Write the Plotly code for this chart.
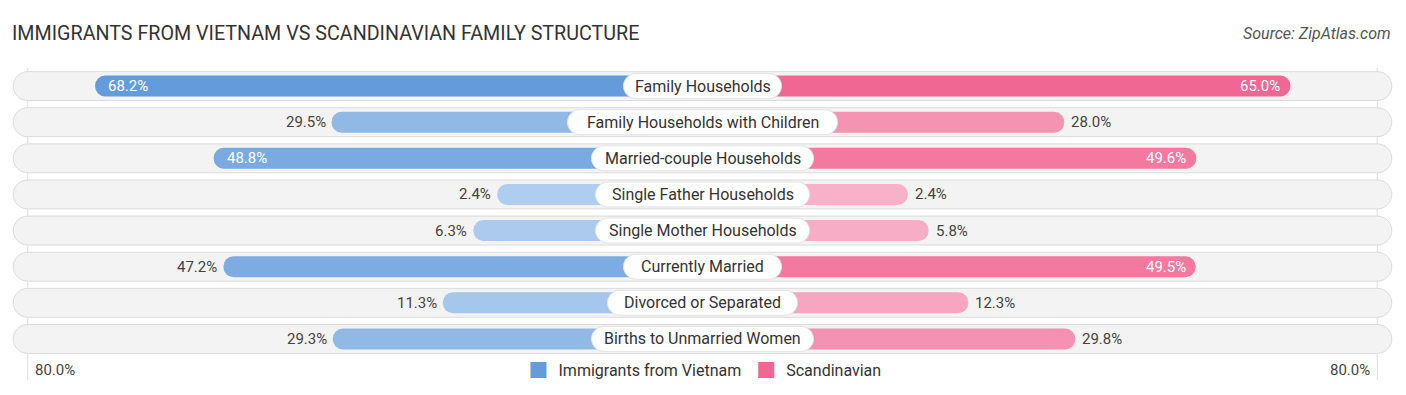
import plotly.graph_objects as go

# ---------------- data ----------------
categories = [
    "Family Households",
    "Family Households with Children",
    "Married-couple Households",
    "Single Father Households",
    "Single Mother Households",
    "Currently Married",
    "Divorced or Separated",
    "Births to Unmarried Women",
]
vietnam = [68.2, 29.5, 48.8, 2.4, 6.3, 47.2, 11.3, 29.3]
scandinavian = [65.0, 28.0, 49.6, 2.4, 5.8, 49.5, 12.3, 29.8]
axis_max_label = "80.0%"
axis_max = 80.0

# ---------------- style ----------------
OFFSET = 31.2          # space reserved for the centre label (in % units)
HALF = 113.0           # half-width of the x range
INSIDE_MIN = 48.0      # values at/above this get white labels inside the bar

BLUE_DARK = (100, 156, 219)
BLUE_LIGHT = (178, 207, 239)
PINK_DARK = (241, 99, 145)
PINK_LIGHT = (248, 180, 203)

W, H = 1398, 387       # page adds an 8px body margin
PLOT_W = W - 4 - 13
PX_PER_UNIT = PLOT_W / (2 * HALF)
ROW_PX = (H - 60 - 38) / 8.0


def mix(light, dark, v, vmax=68.0):
    t = max(0.0, min(1.0, v / vmax))
    c = [round(l + (d - l) * t) for l, d in zip(light, dark)]
    return "rgb({},{},{})".format(*c)


def pill(xa, xb, yc, hh, rx):
    k = 0.5523
    y0, y1 = yc - hh, yc + hh
    return (
        f"M {xa+rx},{y0} L {xb-rx},{y0} "
        f"C {xb-rx+k*rx},{y0} {xb},{yc-k*hh} {xb},{yc} "
        f"C {xb},{yc+k*hh} {xb-rx+k*rx},{y1} {xb-rx},{y1} "
        f"L {xa+rx},{y1} "
        f"C {xa+rx-k*rx},{y1} {xa},{yc+k*hh} {xa},{yc} "
        f"C {xa},{yc-k*hh} {xa+rx-k*rx},{y0} {xa+rx},{y0} Z"
    )


rows = list(range(len(categories)))
blue_colors = [mix(BLUE_LIGHT, BLUE_DARK, v) for v in vietnam]
pink_colors = [mix(PINK_LIGHT, PINK_DARK, v) for v in scandinavian]

fig = go.Figure()

fig.add_trace(go.Bar(
    name="Immigrants from Vietnam",
    y=rows,
    x=[-(v + OFFSET) for v in vietnam],
    orientation="h",
    width=0.58,
    showlegend=False,
    marker=dict(color=blue_colors, cornerradius="50%", line=dict(width=0)),
    customdata=vietnam,
    hovertemplate="%{customdata:.1f}%<extra>Immigrants from Vietnam</extra>",
))
fig.add_trace(go.Bar(
    name="Scandinavian",
    y=rows,
    x=[v + OFFSET for v in scandinavian],
    orientation="h",
    width=0.58,
    showlegend=False,
    marker=dict(color=pink_colors, cornerradius="50%", line=dict(width=0)),
    customdata=scandinavian,
    hovertemplate="%{customdata:.1f}%<extra>Scandinavian</extra>",
))
# legend swatches (square)
for name, col in (("Immigrants from Vietnam", blue_colors[0]), ("Scandinavian", pink_colors[0])):
    fig.add_trace(go.Scatter(
        x=[None], y=[None], mode="markers", name=name,
        marker=dict(symbol="square", size=17, color=col, line=dict(width=0)),
        hoverinfo="skip",
    ))

shapes = []
# rounded background pills
bg_hh = 0.40
bg_rx = bg_hh * ROW_PX / PX_PER_UNIT
for i in rows:
    shapes.append(dict(type="path", path=pill(-HALF + 0.2, HALF - 0.2, i, bg_hh, bg_rx),
                       xref="x", yref="y",
                       fillcolor="#f3f3f3", line=dict(color="#dcdcdc", width=1),
                       layer="below"))

# faint vertical guide lines at the 80% extent
for sgn in (-1, 1):
    shapes.append(dict(type="line", xref="x", yref="paper",
                       x0=sgn * (axis_max + OFFSET) * 0.993, x1=sgn * (axis_max + OFFSET) * 0.993,
                       y0=-0.08, y1=1.0, line=dict(color="#dddddd", width=1),
                       layer="below"))

# white rounded label pills in the centre
lab_hh = 12.5 / ROW_PX
lab_rx = 12.5 / PX_PER_UNIT
for i, cat in enumerate(categories):
    half_w = (len(cat) * 8.0 + 22) / 2 / PX_PER_UNIT
    shapes.append(dict(type="path", path=pill(-half_w, half_w, i, lab_hh, lab_rx),
                       xref="x", yref="y",
                       fillcolor="#ffffff", line=dict(color="#e4e4e4", width=1),
                       layer="above"))

annotations = []
FONT = "Roboto, 'Open Sans', Arial, sans-serif"
for i, cat in enumerate(categories):
    annotations.append(dict(
        x=0, y=i, xref="x", yref="y", text=cat, showarrow=False,
        font=dict(family=FONT, size=16, color="#333333"),
        xanchor="center", yanchor="middle",
    ))
    v = vietnam[i]
    tip = -(v + OFFSET)
    if v >= INSIDE_MIN:
        annotations.append(dict(x=tip, y=i, xref="x", yref="y", text=f"{v:.1f}%",
                                showarrow=False, xanchor="left", xshift=11,
                                font=dict(family=FONT, size=15, color="#ffffff")))
    else:
        annotations.append(dict(x=tip, y=i, xref="x", yref="y", text=f"{v:.1f}%",
                                showarrow=False, xanchor="right", xshift=-4,
                                font=dict(family=FONT, size=15, color="#444444")))
    s = scandinavian[i]
    tip = s + OFFSET
    if s >= INSIDE_MIN:
        annotations.append(dict(x=tip, y=i, xref="x", yref="y", text=f"{s:.1f}%",
                                showarrow=False, xanchor="right", xshift=-8,
                                font=dict(family=FONT, size=15, color="#ffffff")))
    else:
        annotations.append(dict(x=tip, y=i, xref="x", yref="y", text=f"{s:.1f}%",
                                showarrow=False, xanchor="left", xshift=5,
                                font=dict(family=FONT, size=15, color="#444444")))

# axis-end labels
annotations.append(dict(x=-(axis_max + OFFSET), y=-0.045, xref="x", yref="paper",
                        text=axis_max_label, showarrow=False, xanchor="left", xshift=10,
                        yanchor="middle", font=dict(family=FONT, size=15, color="#444444")))
annotations.append(dict(x=(axis_max + OFFSET), y=-0.045, xref="x", yref="paper",
                        text=axis_max_label, showarrow=False, xanchor="right", xshift=-10,
                        yanchor="middle", font=dict(family=FONT, size=15, color="#444444")))
# source
annotations.append(dict(x=1.0, y=1.121, xref="paper", yref="paper",
                        text="Source: ZipAtlas.com", showarrow=False,
                        xanchor="right", yanchor="middle",
                        font=dict(family=FONT, size=16, color="#555555", style="italic")))

fig.update_layout(
    width=W, height=H,
    margin=dict(l=4, r=13, t=60, b=38),
    paper_bgcolor="#ffffff", plot_bgcolor="#ffffff",
    barmode="overlay",
    title=dict(text="IMMIGRANTS FROM VIETNAM VS SCANDINAVIAN FAMILY STRUCTURE",
               x=4 / W, xref="container", xanchor="left",
               y=1 - 25 / H, yref="container", yanchor="middle",
               font=dict(family=FONT, size=19.7, color="#333333")),
    xaxis=dict(range=[-HALF, HALF], visible=False, fixedrange=True),
    yaxis=dict(range=[7.5, -0.5], visible=False, fixedrange=True),
    showlegend=True,
    legend=dict(orientation="h", x=0.5, xanchor="center", y=-0.045, yanchor="middle",
                font=dict(family=FONT, size=16, color="#333333"),
                itemwidth=30, traceorder="normal", bgcolor="rgba(0,0,0,0)"),
    shapes=shapes,
    annotations=annotations,
)

fig.write_html("out.html")
